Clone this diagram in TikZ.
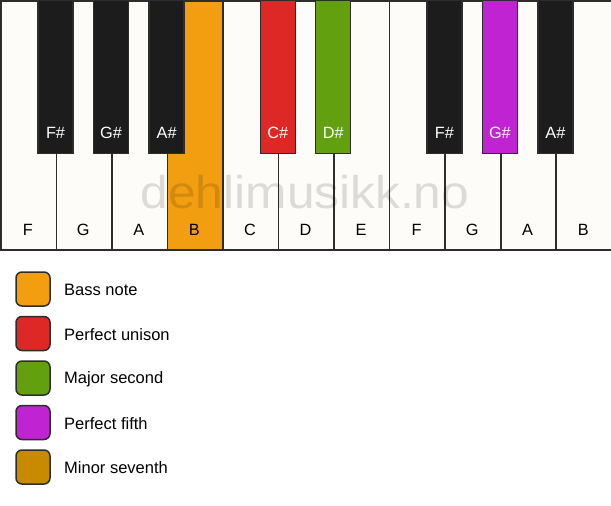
\documentclass[tikz,border=0pt]{standalone}
\usepackage{fontspec}
\setmainfont{Liberation Sans}
\definecolor{keywhite}{RGB}{253,252,248}
\definecolor{keyblack}{RGB}{28,28,28}
\definecolor{keyline}{RGB}{45,45,45}
\definecolor{bassc}{RGB}{243,158,16}
\definecolor{unisonc}{RGB}{222,40,38}
\definecolor{secondc}{RGB}{98,160,16}
\definecolor{fifthc}{RGB}{192,36,210}
\definecolor{seventhc}{RGB}{200,138,0}
\tikzset{
  whitekey/.style={draw=keyline, line width=1.6pt, minimum width=55.545pt, minimum height=249pt, inner sep=0pt, anchor=north west},
  blackkey/.style={draw=keyline, line width=1.3pt, minimum width=35pt, minimum height=153pt, inner sep=0pt, anchor=north},
  wlabel/.style={font=\fontsize{16.3}{19}\selectfont, text=black, inner sep=0pt},
  blabel/.style={font=\fontsize{16.3}{19}\selectfont, text=white, inner sep=0pt},
  legbox/.style={draw=keyline, line width=1.5pt, rounded corners=6pt, minimum width=34pt, minimum height=34pt, inner sep=0pt},
  legtext/.style={font=\fontsize{16.5}{19}\selectfont, anchor=west, inner sep=0pt},
  wmark/.style={font=\fontsize{46}{50}\selectfont, text=black, text opacity=0.13, anchor=base, xscale=1.08, inner sep=0pt}
}
\begin{document}
\begin{tikzpicture}[x=1pt,y=-1pt]
\useasboundingbox (0,0) rectangle (611,506);
\fill[white] (0,0) rectangle (611,506);
% white keys
\foreach \n/\c [count=\i from 0] in {F/keywhite,G/keywhite,A/keywhite,B/bassc,C/keywhite,D/keywhite,E/keywhite,F/keywhite,G/keywhite,A/keywhite,B/keywhite}{
  \node[whitekey, fill=\c] (w\i) at (\i*55.545,0) {};
  \node[wlabel] (wl\i) at (\i*55.545+27.77,230) {\n};
}
% watermark
\node[wmark] (wm) at (305,208) {dehlimusikk.no};
% black keys
\foreach \k/\n/\c in {1/F\#/keyblack,2/G\#/keyblack,3/A\#/keyblack,5/C\#/unisonc,6/D\#/secondc,8/F\#/keyblack,9/G\#/fifthc,10/A\#/keyblack}{
  \node[blackkey, fill=\c] (b\k) at (\k*55.545,0) {};
  \node[blabel] (bl\k) at (\k*55.545,133) {\n};
}
% legend
\foreach \c/\t [count=\i from 0] in {bassc/Bass note,unisonc/Perfect unison,secondc/Major second,fifthc/Perfect fifth,seventhc/Minor seventh}{
  \node[legbox, fill=\c] (lb\i) at (33,289+\i*44.5) {};
  \node[legtext] (lt\i) at (64,290+\i*44.5) {\t};
}
\end{tikzpicture}
\end{document}
